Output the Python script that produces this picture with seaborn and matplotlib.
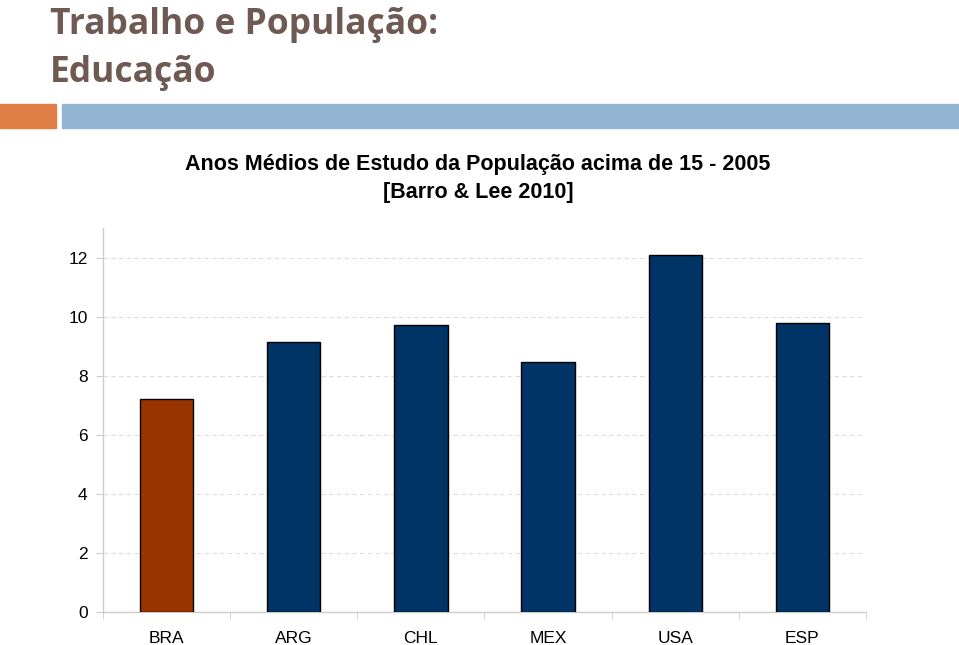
import matplotlib
matplotlib.use("Agg")
import matplotlib.pyplot as plt
import matplotlib.patches as mpatches
import seaborn as sns
import pandas as pd

# data
countries = ['BRA', 'ARG', 'CHL', 'MEX', 'USA', 'ESP']
years = [7.2, 9.13, 9.70, 8.45, 12.07, 9.77]
bar_colors = ['#993300', '#003366', '#003366', '#003366', '#003366', '#003366']

df = pd.DataFrame({'country': countries, 'years': years})

sns.set_style('white')
plt.rcParams['font.family'] = ['Liberation Sans', 'DejaVu Sans']
plt.rcParams['text.color'] = 'black'
plt.rcParams['xtick.color'] = 'black'
plt.rcParams['ytick.color'] = 'black'

fig = plt.figure(figsize=(9.59, 6.45), dpi=100)

# slide header
fig.text(50 / 959, 1 - 34 / 645, 'Trabalho e População:', fontsize=25.5, fontweight='bold',
         color='#6e5a52', family=['Open Sans', 'DejaVu Sans'], va='baseline', ha='left')
fig.text(50 / 959, 1 - 82 / 645, 'Educação', fontsize=25.5, fontweight='bold',
         color='#6e5a52', family=['Open Sans', 'DejaVu Sans'], va='baseline', ha='left')
fig.patches.append(mpatches.Rectangle((0, 1 - 128 / 645), 56 / 959, 24 / 645,
                                      transform=fig.transFigure, color='#e07f45', zorder=0))
fig.patches.append(mpatches.Rectangle((62 / 959, 1 - 128 / 645), 897 / 959, 24 / 645,
                                      transform=fig.transFigure, color='#93b5d3', zorder=0))

fig.text(478 / 959, 1 - 164 / 645, 'Anos Médios de Estudo da População acima de 15 - 2005',
         fontsize=15.5, fontweight='bold', ha='center', va='center')
fig.text(478 / 959, 1 - 193 / 645, '[Barro & Lee 2010]',
         fontsize=15.5, fontweight='bold', ha='center', va='center')

ax = fig.add_axes([103 / 959, 1 - 612 / 645, 763 / 959, 384 / 645])
sns.barplot(data=df, x='country', y='years', hue='country', palette=bar_colors,
            saturation=1, legend=False, width=0.42, edgecolor='black', linewidth=1,
            ax=ax, zorder=3)

ax.set_ylim(0, 13)
ax.set_xlim(-0.5, 5.5)
ax.set_yticks(range(0, 13, 2))
ax.yaxis.grid(True, linestyle=(0, (4, 3)), color='#dddddd', linewidth=0.8, zorder=0)
ax.set_xlabel('')
ax.set_ylabel('')

for s in ['top', 'right']:
    ax.spines[s].set_visible(False)
for s in ['left', 'bottom']:
    ax.spines[s].set_color('#cccccc')
    ax.spines[s].set_linewidth(1)

ax.tick_params(axis='y', labelsize=12.5, length=5, color='#cccccc', left=True, pad=6)
ax.tick_params(axis='x', labelsize=12.5, length=0, pad=14)
ax.set_xticks([i + 0.5 for i in range(-1, 6)], minor=True)
ax.tick_params(axis='x', which='minor', length=5, color='#cccccc', bottom=True)

fig.savefig('out.png', dpi=100)
